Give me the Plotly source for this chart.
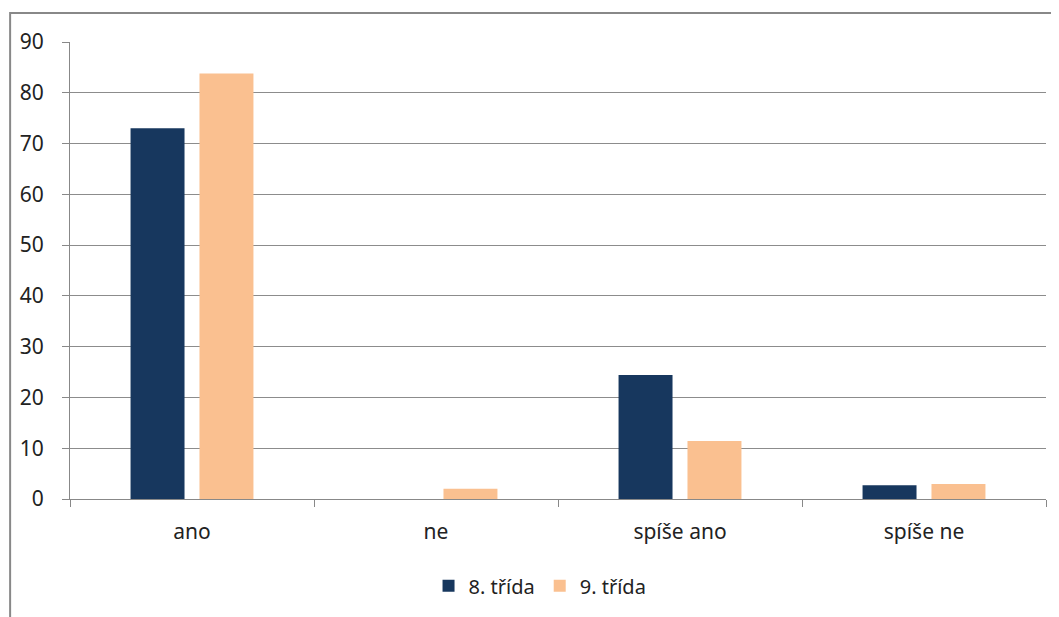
import plotly.graph_objects as go

categories = ["ano", "ne", "spíše ano", "spíše ne"]
series_names = ["8. třída", "9. třída"]
values_8 = [73, 0, 24.4, 2.7]
values_9 = [83.8, 2, 11.4, 2.95]
y_ticks = [0, 10, 20, 30, 40, 50, 60, 70, 80, 90]

colors = ["#17375E", "#FAC090"]
FONT = "Noto Sans"
OFF = 8  # page body margin
W, H = 1059 - OFF, 617 - OFF
ml, mr, mt, mb = 68 - OFF, 13, 42 - OFF, 117
pw, ph = W - ml - mr, H - mt - mb

fig = go.Figure()
for name, vals, c in zip(series_names, [values_8, values_9], colors):
    fig.add_trace(go.Bar(x=categories, y=vals, name=name, marker=dict(color=c, line=dict(width=0))))

def px_x(p):
    return (p - OFF - ml) / pw

def px_y(p):
    return (H - mb - (p - OFF)) / ph

fig.add_shape(type="rect", xref="paper", yref="paper",
              x0=px_x(8), x1=px_x(1059 + 20), y0=px_y(617 + 20), y1=px_y(13),
              line=dict(color="#888888", width=2), fillcolor="rgba(0,0,0,0)", layer="below")

fig.update_layout(
    width=W, height=H,
    margin=dict(l=ml, r=mr, t=mt, b=mb),
    paper_bgcolor="white", plot_bgcolor="white",
    barmode="group", bargap=0.435, bargroupgap=0.217,
    font=dict(family=FONT, size=21, color="#222222"),
    showlegend=True,
    legend=dict(orientation="h", x=px_x(539), xanchor="center", y=px_y(587), yanchor="middle",
                font=dict(family=FONT, size=20, color="#222222"),
                itemwidth=30, tracegroupgap=0, traceorder="normal"),
    xaxis=dict(showgrid=False, showline=True, linecolor="#888888", linewidth=1,
               ticks="outside", ticklen=7, tickcolor="#888888", tickson="boundaries",
               tickfont=dict(family=FONT, size=21, color="#222222"), ticklabelstandoff=14),
    yaxis=dict(range=[0, 90], tickvals=y_ticks, showgrid=True, gridcolor="#8c8c8c", gridwidth=1,
               showline=True, linecolor="#888888", linewidth=1, zeroline=False,
               ticks="outside", ticklen=7, tickcolor="#888888",
               tickfont=dict(family=FONT, size=21, color="#222222"), ticklabelstandoff=14),
)

fig.write_html("out.html")
